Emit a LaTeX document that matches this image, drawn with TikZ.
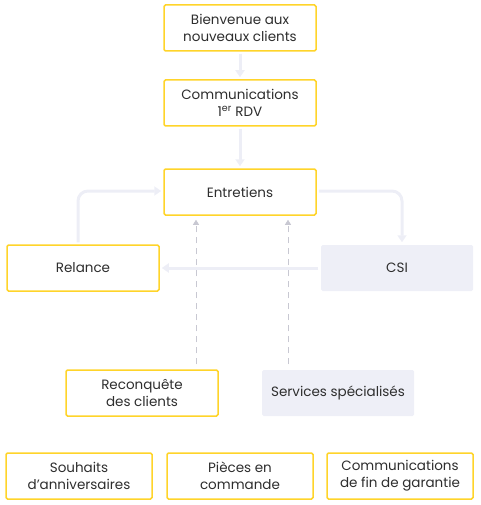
\documentclass[tikz,border=0pt]{standalone}
\usepackage{fontspec}
\setmainfont{Poppins}
\usetikzlibrary{arrows.meta}

\definecolor{cadre}{HTML}{FFD42A}
\definecolor{fond}{HTML}{EEEFF7}
\definecolor{fleche}{HTML}{EDEEF6}
\definecolor{pointille}{HTML}{C8C8D2}
\definecolor{texte}{HTML}{2E2E2E}

\tikzset{
  etape/.style={draw=cadre, line width=1.5pt, rounded corners=1.5pt, fill=white,
    minimum width=152pt, minimum height=46pt, align=center, text=texte,
    font=\fontsize{13.5}{17}\selectfont},
  service/.style={etape, draw=none, fill=fond},
  flux/.style={draw=fleche, line width=3pt, rounded corners=10pt,
    -{Triangle[width=9pt,length=7pt]}, shorten >=2pt, shorten <=2pt},
  lien/.style={draw=pointille, line width=0.8pt, dash pattern=on 6pt off 5pt,
    -{Triangle[width=6pt,length=5pt]}, shorten >=4pt, shorten <=5pt}
}

\begin{document}
\begin{tikzpicture}[x=1pt, y=-1pt]
    \useasboundingbox (0,0) rectangle (480,505);

    % Boites
    \node[etape] (bienv) at (240,28) {Bienvenue aux\\nouveaux clients};
    \node[etape] (comm) at (240,103) {Communications\\1\textsuperscript{er} RDV};
    \node[etape] (entr) at (240,192) {Entretiens};
    \node[etape] (rel) at (83,268) {Relance};
    \node[service] (csi) at (397,268) {CSI};
    \node[etape] (recon) at (142,393) {Reconquête\\des clients};
    \node[service] (serv) at (338,393) {Services spécialisés};

    \node[etape, minimum width=146pt] (souh) at (79,476) {Souhaits\\d’anniversaires};
    \node[etape, minimum width=146pt] (pieces) at (240,476) {Pièces en\\commande};
    \node[etape, minimum width=146pt] (garant) at (400,476) {Communications\\de fin de garantie};

    % Fleches
    \draw[flux] (bienv) -- (comm);
    \draw[flux] (comm) -- (entr);
    \draw[flux] ([xshift=-5pt]rel.north) |- ([yshift=1pt]entr.west);
    \draw[flux] ([yshift=1pt]entr.east) -| ([xshift=5pt]csi.north);
    \draw[flux] (csi) -- (rel);

    % Liens pointilles
    \coordinate (d1) at ([xshift=54pt]recon.north);
    \coordinate (d2) at ([xshift=-50pt]serv.north);
    \draw[lien] (d1) -- (d1 |- entr.south);
    \draw[lien] (d2) -- (d2 |- entr.south);

\end{tikzpicture}
\end{document}
